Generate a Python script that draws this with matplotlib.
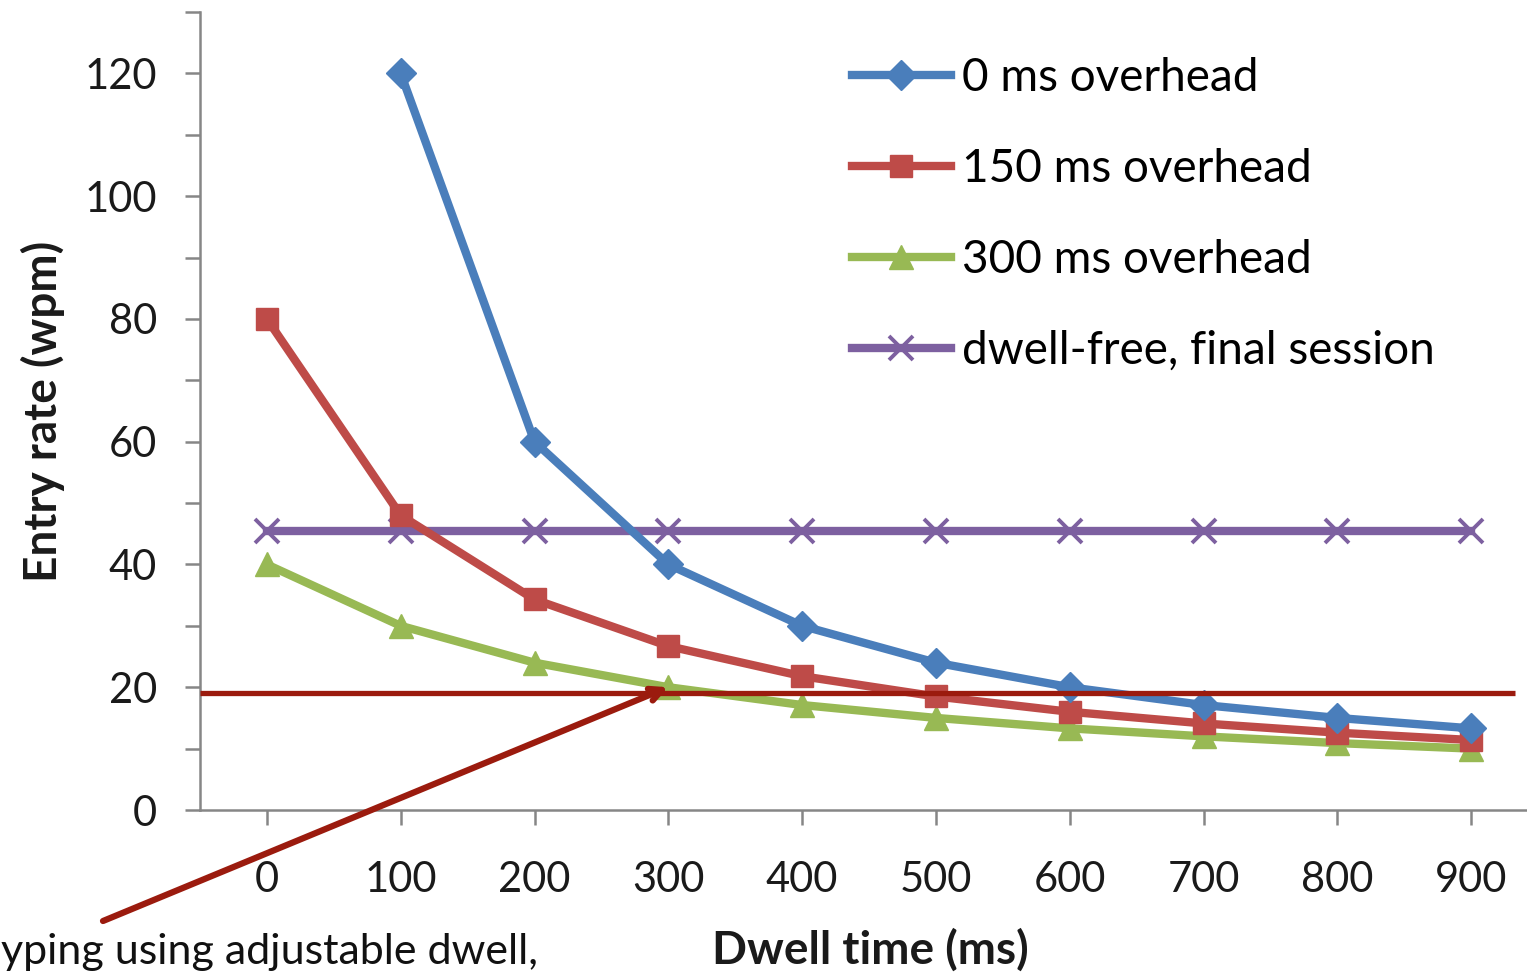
import matplotlib
matplotlib.use("Agg")
import matplotlib.pyplot as plt
from matplotlib.ticker import MultipleLocator, FixedLocator

# Dwell time categories (ms) and entry rates (wpm)
dwell_ms = [0, 100, 200, 300, 400, 500, 600, 700, 800, 900]
overhead_0 = [None, 120, 60, 40, 30, 24, 20, 17.1, 15, 13.3]
overhead_150 = [80, 48, 34.3, 26.7, 21.8, 18.5, 16, 14.1, 12.6, 11.4]
overhead_300 = [40, 30, 24, 20, 17.1, 15, 13.3, 12, 10.9, 10]
dwell_free = [45.5, 45.5, 45.5, 45.5, 45.5, 45.5, 45.5, 45.5, 45.5, 45.5]

series_labels = ["0 ms overhead", "150 ms overhead", "300 ms overhead",
                 "dwell-free, final session"]
x_ticks = [0, 100, 200, 300, 400, 500, 600, 700, 800, 900]
y_ticks = [0, 20, 40, 60, 80, 100, 120]
target_rate = 19.1
caption = "yping using adjustable dwell,"

plt.rcParams["font.family"] = ["Lato", "DejaVu Sans"]

W, H = 1527, 975
fig = plt.figure(figsize=(W / 100, H / 100), dpi=100)
fig.patch.set_facecolor("white")

ax_left, ax_right = 200, 1538
ax_top, ax_bottom = 12, 810
ax = fig.add_axes([ax_left / W, (H - ax_bottom) / H,
                   (ax_right - ax_left) / W, (ax_bottom - ax_top) / H])
ax.set_facecolor("white")
ax.set_xlim(-50, 950)
ax.set_ylim(0, 130)

lw = 6.0
ms = 17
blue, red, green, purple = "#4a7ebb", "#be4b48", "#98b954", "#7d60a0"

def clean(vals):
    return [float("nan") if v is None else v for v in vals]

ax.plot(dwell_ms, clean(dwell_free), color=purple, lw=lw, marker="x",
        ms=ms, mew=2.8, label=series_labels[3], zorder=3)
ax.plot(dwell_ms, clean(overhead_300), color=green, lw=lw, marker="^",
        ms=ms, label=series_labels[2], zorder=4)
ax.plot(dwell_ms, clean(overhead_150), color=red, lw=lw, marker="s",
        ms=ms - 1, label=series_labels[1], zorder=5)
ax.plot(dwell_ms, clean(overhead_0), color=blue, lw=lw, marker="D",
        ms=ms - 2, label=series_labels[0], zorder=6)

# Spines and ticks
for side in ("top", "right"):
    ax.spines[side].set_visible(False)
for side in ("left", "bottom"):
    ax.spines[side].set_color("#868686")
    ax.spines[side].set_linewidth(1.8)

ax.yaxis.set_major_locator(FixedLocator(y_ticks))
ax.yaxis.set_minor_locator(MultipleLocator(10))
ax.set_xticks(x_ticks)
ax.set_xticklabels([str(t) for t in x_ticks])
ax.set_yticklabels([str(t) for t in y_ticks])
ax.tick_params(axis="both", which="both", direction="out", length=11,
               width=1.8, color="#868686")
ax.tick_params(axis="y", which="major", labelsize=30, pad=20,
               labelcolor="#1a1a1a")
ax.tick_params(axis="x", which="major", labelsize=30, pad=26,
               labelcolor="#1a1a1a")

ax.set_ylabel("Entry rate (wpm)", fontsize=33, fontweight="bold",
              color="#1a1a1a", labelpad=14)
fig.text(870 / W, 1 - 950 / H, "Dwell time (ms)", fontsize=33,
         fontweight="bold", color="#1a1a1a", ha="center", va="center")

# Legend, ordered as series were introduced
handles, labels = ax.get_legend_handles_labels()
order = [3, 2, 1, 0]
leg = ax.legend([handles[i] for i in order], [labels[i] for i in order],
                loc="upper left", bbox_to_anchor=(852 / W, 1 - 57 / H),
                bbox_transform=fig.transFigure, frameon=False, fontsize=33,
                handlelength=2.15, handletextpad=0.25, labelspacing=1.07,
                borderaxespad=0, borderpad=0, markerscale=1.0)

# Target-rate reference line and pointer arrow
line_x0 = ax.transData.inverted().transform((ax_left, 0))[0]
line_x1 = ax.transData.inverted().transform((1515, 0))[0]
ax.plot([line_x0, line_x1], [target_rate, target_rate], color="#9b1b0e",
        lw=3.8, zorder=7, clip_on=False, solid_capstyle="butt")

ax.annotate("", xy=(300, overhead_300[3]), xycoords="data",
            xytext=(103 / W, 1 - 921 / H), textcoords="figure fraction",
            arrowprops=dict(arrowstyle="->,head_length=0.9,head_width=0.45",
                            color="#9b1b0e", lw=4.5, shrinkA=0, shrinkB=0),
            zorder=8, annotation_clip=False)

fig.text(1 / W, 1 - 964 / H, caption, fontsize=31, color="#111111",
         ha="left", va="baseline")

fig.savefig("out.png", dpi=100)
